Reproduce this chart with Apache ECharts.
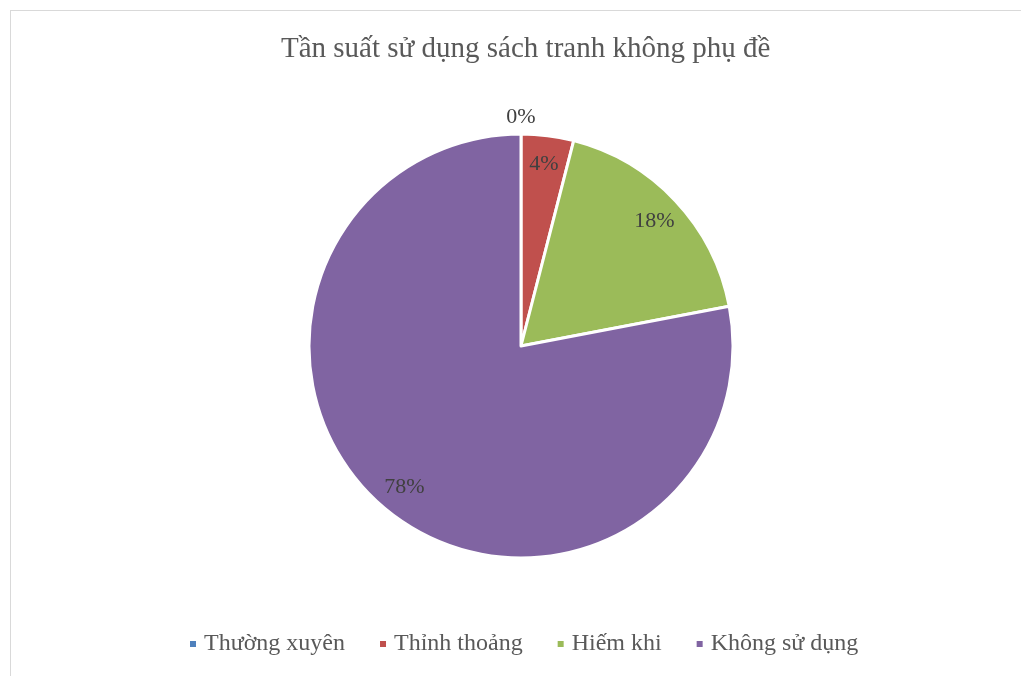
<!DOCTYPE html>
<html>
<head>
<meta charset="utf-8">
<script src="https://cdn.jsdelivr.net/npm/echarts@6/dist/echarts.min.js"></script>
<style>
  html, body { margin: 0; padding: 0; background: #fff; }
  #wrap { position: relative; width: 1021px; height: 676px; overflow: hidden; }
  #frame { position: absolute; left: 10px; top: 10px; width: 1040px; height: 700px; border: 1px solid #d9d9d9; box-sizing: border-box; }
  #chart { position: absolute; left: 0; top: 0; width: 1021px; height: 676px; }
</style>
</head>
<body>
<div id="wrap">
  <div id="frame"></div>
  <div id="chart"></div>
</div>
<script>
const titleText = 'Tần suất sử dụng sách tranh không phụ đề';
const categories = ['Thường xuyên', 'Thỉnh thoảng', 'Hiếm khi', 'Không sử dụng'];
const values = [0, 4, 18, 78];
const colors = ['#4F81BD', '#C0504D', '#9BBB59', '#8064A2'];

const font = '"Liberation Serif", "Times New Roman", serif';
const center = [521, 346];

const labelStyle = {
  fontFamily: font,
  fontSize: 22,
  color: '#404040',
  formatter: '{c}%'
};

const slices = categories.map((name, i) => ({
  name,
  value: values[i],
  itemStyle: { color: colors[i] }
}));

// label-only rings: non-zero labels sit near the rim, the zero one just outside
const labelRing = (radius, pick) => ({
  type: 'pie',
  center,
  radius,
  startAngle: 90,
  silent: true,
  legendHoverLink: false,
  animation: false,
  itemStyle: { color: 'rgba(0,0,0,0)', borderWidth: 0 },
  labelLine: { show: false },
  emphasis: { disabled: true },
  data: categories.map((name, i) => ({
    name,
    value: values[i],
    label: { show: pick(values[i]), position: 'inside', ...labelStyle }
  }))
});

const chart = echarts.init(document.getElementById('chart'));

chart.setOption({
  backgroundColor: 'transparent',
  animation: false,
  title: {
    text: titleText,
    left: 276,
    top: 30,
    textStyle: {
      fontFamily: font,
      fontSize: 29,
      fontWeight: 'normal',
      color: '#595959'
    }
  },
  legend: {
    data: categories,
    bottom: 15,
    left: 183,
    icon: 'rect',
    itemWidth: 8,
    itemHeight: 8,
    itemGap: 33,
    textStyle: {
      fontFamily: font,
      fontSize: 24,
      color: '#595959',
      padding: [0, 0, 0, 2]
    }
  },
  series: [
    {
      type: 'pie',
      center,
      radius: 212,
      startAngle: 90,
      itemStyle: { borderColor: '#fff', borderWidth: 3 },
      label: { show: false },
      labelLine: { show: false },
      emphasis: { scale: false },
      data: slices
    },
    labelRing([148, 212], v => v !== 0),
    labelRing([212, 240], v => v === 0)
  ]
});
</script>
</body>
</html>
